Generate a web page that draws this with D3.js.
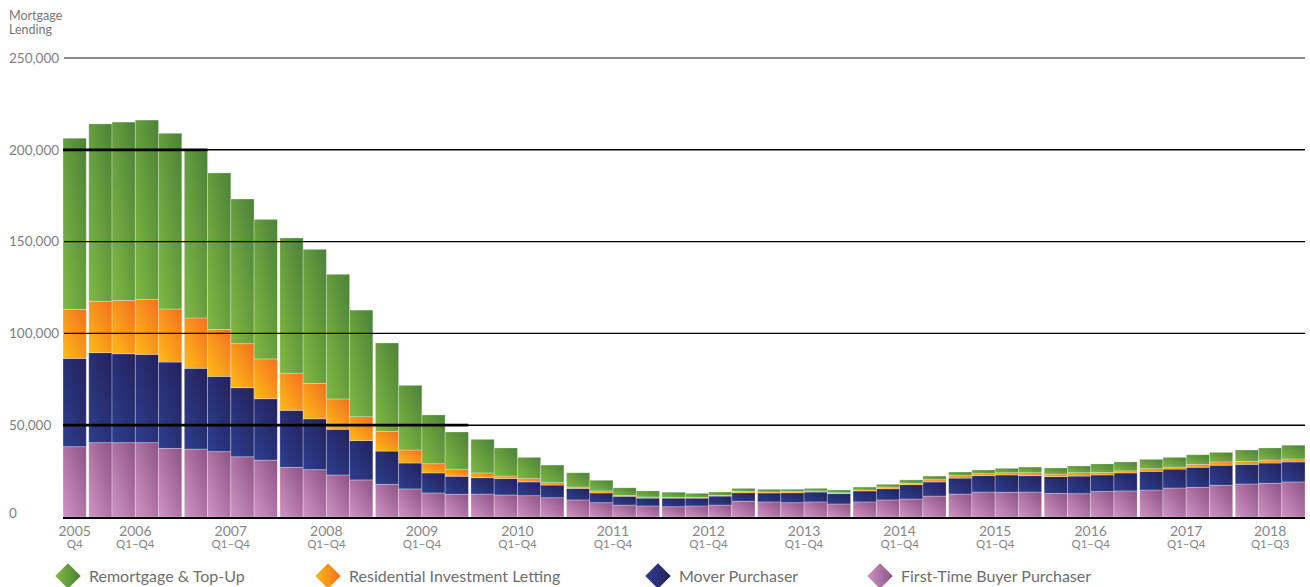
<!DOCTYPE html>
<html>
<head>
<meta charset="utf-8">
<script src="https://cdn.jsdelivr.net/npm/d3@7/dist/d3.min.js"></script>
<style>
body { margin: 0; background: #fff; }
svg text { font-family: Lato, "Open Sans", sans-serif; }
</style>
</head>
<body>
<div id="chart"></div>
<script>
// 数据
var years = ['2005', '2006', '2007', '2008', '2009', '2010', '2011', '2012', '2013', '2014', '2015', '2016', '2017', '2018'];
var year_spans = ['Q4', 'Q1–Q4', 'Q1–Q4', 'Q1–Q4', 'Q1–Q4', 'Q1–Q4', 'Q1–Q4', 'Q1–Q4', 'Q1–Q4', 'Q1–Q4', 'Q1–Q4', 'Q1–Q4', 'Q1–Q4', 'Q1–Q3'];
var quarters_in_year = [1, 4, 4, 4, 4, 4, 4, 4, 4, 4, 4, 4, 4, 3];
var series_names = ['Remortgage & Top-Up', 'Residential Investment Letting', 'Mover Purchaser', 'First-Time Buyer Purchaser'];
var y_ticks = [0, 50000, 100000, 150000, 200000, 250000];

var first_time_buyer = [38300, 40500, 40500, 40500, 37400, 37000, 35600, 32800, 31000, 27100,
    25800, 22900, 20200, 17800, 15300, 13100, 12400, 12500, 12000, 11600,
    10500, 9300, 7800, 6500, 6000, 5600, 6000, 6500, 8600, 8200,
    7800, 8200, 7100, 8200, 9300, 9800, 11400, 12500, 13600, 13500,
    13600, 12900, 12700, 13900, 14200, 14700, 15800, 16200, 17300, 18000,
    18400, 19100];
var mover = [48100, 49000, 48400, 48100, 47000, 44000, 41000, 37600, 33400, 31000,
    27700, 24900, 21400, 18100, 14100, 10900, 9800, 8900, 8900, 7500,
    6900, 6300, 5300, 4800, 4300, 4700, 4300, 4900, 4600, 4900,
    5400, 5400, 5600, 6000, 6100, 7800, 7700, 8700, 8900, 9400,
    8900, 9100, 9600, 9000, 9800, 10200, 10300, 10900, 10900, 10700,
    11000, 10900];
var residential_investment = [26700, 28000, 29100, 29800, 28900, 27400, 25600, 24000, 21700, 20200,
    19300, 16500, 13000, 10800, 7100, 5000, 3600, 2600, 1400, 1800,
    1300, 700, 1100, 400, 600, 400, 400, 400, 800, 500,
    600, 600, 500, 500, 900, 800, 1200, 1300, 1100, 1200,
    1600, 1400, 1800, 1300, 1100, 1400, 1100, 1600, 1800, 1600,
    1600, 1600];
var remortgage = [93200, 96600, 97100, 97800, 95700, 91500, 85200, 78800, 76000, 73700,
    73000, 67900, 58100, 48100, 35200, 26600, 20500, 18300, 15300, 11600,
    9600, 7800, 5800, 4200, 3300, 2800, 2200, 1800, 1600, 1500,
    1300, 1400, 1500, 1600, 1500, 1800, 2000, 2000, 2000, 2400,
    3100, 3300, 3700, 4700, 4900, 5100, 5300, 5200, 5200, 6200,
    6600, 7500];

// 图表尺寸
var chart_width = 1310;
var chart_height = 587;
var plot_left = 63;
var plot_right = 1305;
var year_gap = 2.5;

var svg = d3.select('#chart')
    .append('svg')
    .attr('width', chart_width)
    .attr('height', chart_height);

// 每个季度一行
var rows = [];
years.forEach(function (y, g) {
    for (var q = 0; q < quarters_in_year[g]; q++) {
        var i = rows.length;
        rows.push({
            index: i,
            group: g,
            ftb: first_time_buyer[i],
            mover: mover[i],
            ril: residential_investment[i],
            remortgage: remortgage[i]
        });
    }
});

var keys = ['ftb', 'mover', 'ril', 'remortgage'];
var key_names = {
    remortgage: series_names[0],
    ril: series_names[1],
    mover: series_names[2],
    ftb: series_names[3]
};
// 渐变颜色: 左下 -> 右上
var colors = {
    remortgage: ['#80b943', '#4b8239'],
    ril: ['#fdbb16', '#f36f21'],
    mover: ['#2d3f90', '#24215a'],
    ftb: ['#d093c5', '#8d5384']
};

var stacked = d3.stack().keys(keys)(rows);

var x_scale = d3.scaleBand()
    .domain(d3.range(rows.length))
    .range([plot_left, plot_right - (years.length - 1) * year_gap])
    .paddingInner(0);

var y_scale = d3.scaleLinear()
    .domain([0, 250000])
    .range([517, 58]);

function bar_x(i) {
    return x_scale(i) + rows[i].group * year_gap;
}

// 渐变
var defs = svg.append('defs');
keys.forEach(function (k) {
    var g = defs.append('linearGradient')
        .attr('id', 'grad-' + k)
        .attr('x1', 0).attr('y1', 1)
        .attr('x2', 1).attr('y2', 0);
    g.append('stop').attr('offset', '0%').attr('stop-color', colors[k][0]);
    g.append('stop').attr('offset', '100%').attr('stop-color', colors[k][1]);
});

// 堆叠条形
svg.append('g')
    .selectAll('g')
    .data(stacked)
    .enter()
    .append('g')
    .attr('fill', function (s) {
        return 'url(#grad-' + s.key + ')';
    })
    .selectAll('rect')
    .data(function (s) {
        return s;
    })
    .enter()
    .append('rect')
    .attr('x', function (d, i) {
        return bar_x(i);
    })
    .attr('y', function (d) {
        return y_scale(d[1]);
    })
    .attr('width', x_scale.bandwidth())
    .attr('height', function (d) {
        return y_scale(d[0]) - y_scale(d[1]);
    })
    .attr('stroke', 'rgba(255,255,255,0.35)')
    .attr('stroke-width', 0.8);

// 网格线
svg.append('g')
    .selectAll('line')
    .data(y_ticks.slice(1))
    .enter()
    .append('line')
    .attr('x1', plot_left + 1)
    .attr('x2', plot_right)
    .attr('y1', function (d) { return y_scale(d); })
    .attr('y2', function (d) { return y_scale(d); })
    .attr('stroke', function (d) { return d === 250000 ? '#666' : '#000'; })
    .attr('stroke-width', 1.4);

// heavier rule where it crosses the early bars, as in the source
var heavy = [[200000, 5], [50000, 16]];
svg.append('g')
    .selectAll('line')
    .data(heavy)
    .enter()
    .append('line')
    .attr('x1', plot_left)
    .attr('x2', function (d) { return bar_x(d[1]) + x_scale.bandwidth(); })
    .attr('y1', function (d) { return y_scale(d[0]); })
    .attr('y2', function (d) { return y_scale(d[0]); })
    .attr('stroke', '#000')
    .attr('stroke-width', 2.8);

// 基线
svg.append('line')
    .attr('x1', plot_left)
    .attr('x2', plot_right)
    .attr('y1', y_scale(0) + 1)
    .attr('y2', y_scale(0) + 1)
    .attr('stroke', '#000')
    .attr('stroke-width', 2.2);

// Y轴标签
svg.append('g')
    .selectAll('text')
    .data(y_ticks)
    .enter()
    .append('text')
    .text(function (d) {
        return d3.format(',')(d);
    })
    .attr('x', 9)
    .attr('y', function (d) {
        return d === 0 ? y_scale(d) - 4 : y_scale(d);
    })
    .attr('dy', '0.36em')
    .attr('font-size', 13.5)
    .attr('fill', '#808080');

svg.append('text')
    .attr('x', 9)
    .attr('y', 20)
    .attr('font-size', 12.5)
    .attr('fill', '#777')
    .text('Mortgage');
svg.append('text')
    .attr('x', 9)
    .attr('y', 34)
    .attr('font-size', 12.5)
    .attr('fill', '#777')
    .text('Lending');

// X轴标签
var year_pos = years.map(function (y, g) {
    var idx = rows.filter(function (r) { return r.group === g; }).map(function (r) { return r.index; });
    var x0 = bar_x(idx[0]);
    var x1 = bar_x(idx[idx.length - 1]) + x_scale.bandwidth();
    return (x0 + x1) / 2;
});

var x_labels = svg.append('g')
    .selectAll('g')
    .data(years)
    .enter()
    .append('g')
    .attr('transform', function (d, g) {
        return 'translate(' + year_pos[g] + ',0)';
    });
x_labels.append('text')
    .text(function (d) { return d; })
    .attr('y', 536)
    .attr('text-anchor', 'middle')
    .attr('font-size', 14)
    .attr('fill', '#868686');
x_labels.append('text')
    .text(function (d, g) { return year_spans[g]; })
    .attr('y', 548)
    .attr('text-anchor', 'middle')
    .attr('font-size', 11.5)
    .attr('fill', '#868686');

// 图例
var legend_keys = ['remortgage', 'ril', 'mover', 'ftb'];
var legend_x = [68, 328, 658, 880];
var legend = svg.append('g')
    .selectAll('g')
    .data(legend_keys)
    .enter()
    .append('g')
    .attr('transform', function (d, i) {
        return 'translate(' + legend_x[i] + ',576)';
    });
legend.append('rect')
    .attr('x', -9)
    .attr('y', -9)
    .attr('width', 18)
    .attr('height', 18)
    .attr('transform', 'rotate(45)')
    .attr('fill', function (d) { return 'url(#grad-' + d + ')'; });
legend.append('text')
    .text(function (d) { return key_names[d]; })
    .attr('x', 21)
    .attr('dy', '0.35em')
    .attr('font-size', 16)
    .attr('fill', '#6e6e6e');
</script>
</body>
</html>
